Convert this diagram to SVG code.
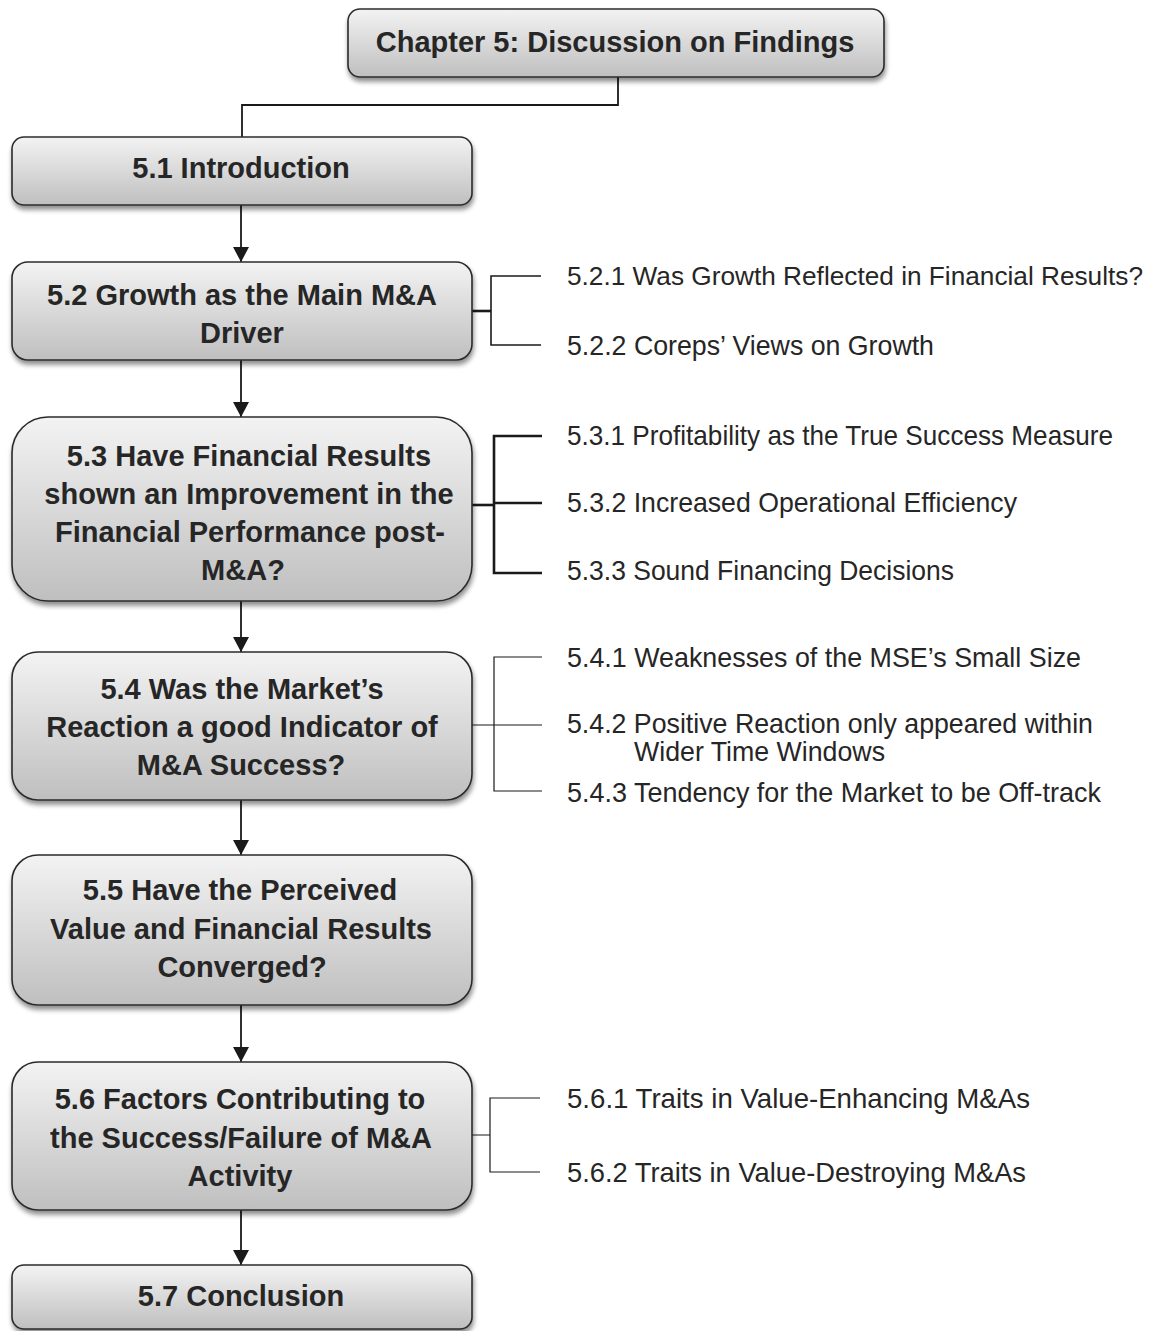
<svg xmlns="http://www.w3.org/2000/svg" width="1154" height="1331" viewBox="0 0 1154 1331">
  <style>
    .box { fill: url(#boxGrad); stroke: #2b2b2b; stroke-width: 1.6; filter: url(#shadow); }
    .title { font-family: "Liberation Sans", Arial, sans-serif; font-weight: bold; font-size: 29px; fill: #262626; text-anchor: middle; dominant-baseline: central; }
    .sub { font-family: "Liberation Sans", Arial, sans-serif; font-size: 28px; fill: #262626; dominant-baseline: central; }
    .sub-long { font-size: 26.5px; }
    .flow { fill: none; stroke: #1a1a1a; stroke-width: 1.8; }
    .branch { fill: none; stroke: #1a1a1a; stroke-width: 1.2; }
    .branch-mid { fill: none; stroke: #1a1a1a; stroke-width: 1.6; }
    .branch-bold { fill: none; stroke: #1a1a1a; stroke-width: 2.6; }
  </style>
  <defs>
    <linearGradient id="boxGrad" x1="0" y1="0" x2="0" y2="1">
      <stop offset="0" stop-color="#f3f3f3"/>
      <stop offset="1" stop-color="#bfbfbf"/>
    </linearGradient>
    <filter id="shadow" x="-5%" y="-10%" width="115%" height="130%">
      <feGaussianBlur in="SourceAlpha" stdDeviation="2.5"/>
      <feOffset dx="1" dy="4" result="b"/>
      <feComponentTransfer><feFuncA type="linear" slope="0.45"/></feComponentTransfer>
      <feMerge><feMergeNode/><feMergeNode in="SourceGraphic"/></feMerge>
    </filter>
    <!-- filled arrowhead, tip at the path end -->
    <marker id="arrow" markerWidth="15" markerHeight="16" viewBox="0 0 15 16" refX="15" refY="8" orient="auto" markerUnits="userSpaceOnUse">
      <path d="M0,0 L15,8 L0,16 Z" fill="#1a1a1a"/>
    </marker>
  </defs>

  <rect width="1154" height="1331" fill="#ffffff"/>

  <!-- main flow and branch connectors -->
  <g id="connectors">
    <path class="flow" d="M618,77 V105 H242 V137"/>
    <line class="flow" x1="241" y1="205" x2="241" y2="262" marker-end="url(#arrow)"/>
    <line class="flow" x1="241" y1="360" x2="241" y2="417" marker-end="url(#arrow)"/>
    <line class="flow" x1="241" y1="601" x2="241" y2="652" marker-end="url(#arrow)"/>
    <line class="flow" x1="241" y1="800" x2="241" y2="855" marker-end="url(#arrow)"/>
    <line class="flow" x1="241" y1="1005" x2="241" y2="1062" marker-end="url(#arrow)"/>
    <line class="flow" x1="241" y1="1210" x2="241" y2="1265" marker-end="url(#arrow)"/>

    <!-- 5.2 branches -->
    <path class="branch-bold" d="M472,311 H491"/>
    <path class="branch-mid" d="M541,276 H491 V345 H541"/>
    <!-- 5.3 branches -->
    <path class="branch-bold" d="M472,505 H494"/>
    <path class="branch-bold" d="M542,436 H494 V573 H542 M494,503 H542"/>
    <!-- 5.4 branches -->
    <path class="branch" d="M472,725 H542 M542,657 H494 V791 H542"/>
    <!-- 5.6 branches -->
    <path class="branch" d="M472,1135 H490 M540,1098 H490 V1172 H540"/>
  </g>

  <g id="chapter">
    <rect class="box" x="348" y="9" width="536" height="68" rx="12"/>
    <text class="title" x="615" y="42">Chapter 5: Discussion on Findings</text>
  </g>

  <g id="s5-1">
    <rect class="box" x="12" y="137" width="460" height="68" rx="12"/>
    <text class="title" x="241" y="168">5.1 Introduction</text>
  </g>

  <g id="s5-2">
    <rect class="box" x="12" y="262" width="460" height="98" rx="16"/>
    <text class="title" x="242" y="295">5.2 Growth as the Main M&amp;A</text>
    <text class="title" x="242" y="333">Driver</text>
  </g>

  <g id="s5-3">
    <rect class="box" x="12" y="417" width="460" height="184" rx="36"/>
    <text class="title" x="249" y="456">5.3 Have Financial Results</text>
    <text class="title" x="249" y="494">shown an Improvement in the</text>
    <text class="title" x="250" y="532">Financial Performance post-</text>
    <text class="title" x="243" y="570">M&amp;A?</text>
  </g>

  <g id="s5-4">
    <rect class="box" x="12" y="652" width="460" height="148" rx="26"/>
    <text class="title" x="242" y="689">5.4 Was the Market’s</text>
    <text class="title" x="242" y="727">Reaction a good Indicator of</text>
    <text class="title" x="241" y="765">M&amp;A Success?</text>
  </g>

  <g id="s5-5">
    <rect class="box" x="12" y="855" width="460" height="150" rx="26"/>
    <text class="title" x="240" y="890">5.5 Have the Perceived</text>
    <text class="title" x="241" y="929">Value and Financial Results</text>
    <text class="title" x="242" y="967">Converged?</text>
  </g>

  <g id="s5-6">
    <rect class="box" x="12" y="1062" width="460" height="148" rx="26"/>
    <text class="title" x="240" y="1099">5.6 Factors Contributing to</text>
    <text class="title" x="241" y="1138">the Success/Failure of M&amp;A</text>
    <text class="title" x="240" y="1176">Activity</text>
  </g>

  <g id="s5-7">
    <rect class="box" x="12" y="1265" width="460" height="64" rx="12"/>
    <text class="title" x="241" y="1296">5.7 Conclusion</text>
  </g>

  <!-- sub-section labels (narrow face: glyphs fitted to the run length) -->
  <g id="sub-5-2">
    <text class="sub sub-long" x="567" y="276" textLength="576" lengthAdjust="spacingAndGlyphs">5.2.1 Was Growth Reflected in Financial Results?</text>
    <text class="sub" x="567" y="345" textLength="367" lengthAdjust="spacingAndGlyphs">5.2.2 Coreps’ Views on Growth</text>
  </g>
  <g id="sub-5-3">
    <text class="sub" x="567" y="435" textLength="546" lengthAdjust="spacingAndGlyphs">5.3.1 Profitability as the True Success Measure</text>
    <text class="sub" x="567" y="502" textLength="450" lengthAdjust="spacingAndGlyphs">5.3.2 Increased Operational Efficiency</text>
    <text class="sub" x="567" y="570" textLength="387" lengthAdjust="spacingAndGlyphs">5.3.3 Sound Financing Decisions</text>
  </g>
  <g id="sub-5-4">
    <text class="sub" x="567" y="657" textLength="514" lengthAdjust="spacingAndGlyphs">5.4.1 Weaknesses of the MSE’s Small Size</text>
    <text class="sub" x="567" y="723" textLength="526" lengthAdjust="spacingAndGlyphs">5.4.2 Positive Reaction only appeared within</text>
    <text class="sub" x="634" y="751" textLength="251" lengthAdjust="spacingAndGlyphs">Wider Time Windows</text>
    <text class="sub" x="567" y="792" textLength="534" lengthAdjust="spacingAndGlyphs">5.4.3 Tendency for the Market to be Off-track</text>
  </g>
  <g id="sub-5-6">
    <text class="sub" x="567" y="1098" textLength="463" lengthAdjust="spacingAndGlyphs">5.6.1 Traits in Value-Enhancing M&amp;As</text>
    <text class="sub" x="567" y="1172" textLength="459" lengthAdjust="spacingAndGlyphs">5.6.2 Traits in Value-Destroying M&amp;As</text>
  </g>
</svg>
